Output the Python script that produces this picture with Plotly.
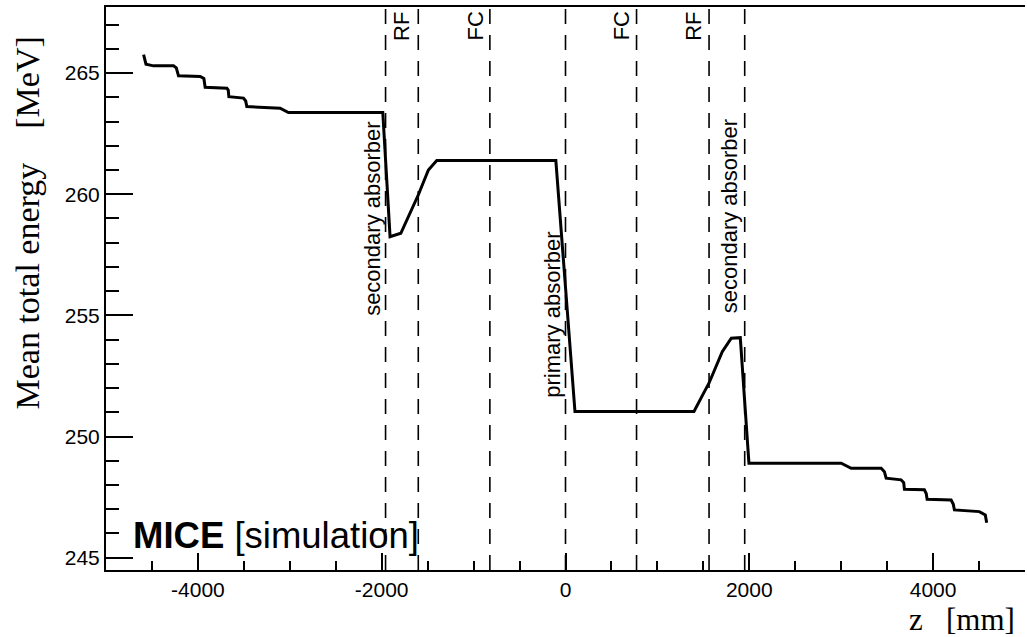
import plotly.graph_objects as go

# Mean total energy along the MICE cooling channel (simulation)
z_mm = [
    -4591, -4565, -4483, -4265, -4235, -4211, -3975, -3935, -3921, -3685, -3670,
    -3663, -3504, -3480, -3468, -3105, -3015, -1988, -1909, -1792, -1601, -1492,
    -1401, -105, 103, 1398, 1503, 1561, 1706, 1804, 1902, 1996, 3000, 3109,
    3435, 3470, 3489, 3652, 3680, 3688, 3905, 3925, 3935, 4196, 4220, 4232,
    4503, 4568, 4583,
]
mean_energy_mev = [
    265.76, 265.37, 265.30, 265.30, 265.22, 264.89, 264.86, 264.78, 264.42, 264.38, 264.30,
    264.03, 263.97, 263.85, 263.62, 263.55, 263.37, 263.37, 258.25, 258.39, 259.98, 261.00,
    261.39, 261.39, 251.03, 251.03, 251.79, 252.20, 253.50, 254.06, 254.08, 248.90, 248.90, 248.69,
    248.69, 248.55, 248.28, 248.21, 248.10, 247.82, 247.80, 247.65, 247.41, 247.38, 247.20, 246.97,
    246.90, 246.76, 246.44,
]

# Channel elements marked by dashed lines
element_z = [-1958, -1602, -823, 0, 773, 1562, 1950]
element_names = ["secondary absorber", "RF", "FC", "primary absorber", "FC", "RF", "secondary absorber"]

x_tick_vals = [-4000, -2000, 0, 2000, 4000]
x_tick_text = ["-4000", "-2000", "0", "2000", "4000"]
y_tick_vals = [245, 250, 255, 260, 265]
y_tick_text = ["245", "250", "255", "260", "265"]

SANS = "Liberation Sans, Arial, Helvetica, sans-serif"
SERIF = "Liberation Serif, Times New Roman, serif"
NB = "\u00a0"

# plot-area geometry in pixels
L, R, T, B = 106, 2, 7, 67
W, H = 1027, 637
PW, PH = W - L - R, H - T - B


def px_to_paper(px, py):
    return (px - L) / PW, (H - B - py) / PH


fig = go.Figure()
fig.add_trace(go.Scatter(
    x=z_mm, y=mean_energy_mev, mode="lines",
    line=dict(color="black", width=3), hoverinfo="skip", showlegend=False,
))

for zpos in element_z:
    fig.add_shape(type="line", xref="x", yref="paper", x0=zpos, x1=zpos, y0=0, y1=1,
                  line=dict(color="black", width=1.6, dash="15px,11px"), layer="below")

# label placement: (x in mm, bottom of rotated text in MeV)
label_pos = [(-2094, 254.9), (-1784, 266.25), (-984, 266.25), (-141, 251.5),
             (604, 266.25), (1392, 266.25), (1778, 255.0)]
for name, (lx, ly) in zip(element_names, label_pos):
    fig.add_annotation(x=lx, y=ly, xref="x", yref="y", text=name, textangle=-90,
                       showarrow=False, xanchor="center", yanchor="bottom",
                       font=dict(family=SANS, size=22, color="black"))

mx, my = px_to_paper(131, 535)
fig.add_annotation(xref="paper", yref="paper", x=mx, y=my,
                   xanchor="left", yanchor="middle", showarrow=False,
                   text="<b>MICE</b>" + NB + "[simulation]",
                   font=dict(family=SANS, size=36.5, color="black"))

zx, zy = px_to_paper(1017, 619)
fig.add_annotation(xref="paper", yref="paper", x=zx, y=zy,
                   xanchor="right", yanchor="middle", showarrow=False,
                   text="z" + NB * 3 + "[mm]",
                   font=dict(family=SERIF, size=31, color="black"))

yx, yy = px_to_paper(27, 35)
fig.add_annotation(xref="paper", yref="paper", x=yx, y=yy,
                   xanchor="center", yanchor="top", showarrow=False, textangle=-90,
                   text="Mean total energy" + NB * 4 + "[MeV]",
                   font=dict(family=SERIF, size=34, color="black"))

fig.update_layout(
    width=W, height=H,
    margin=dict(l=L, r=R, t=T, b=B, pad=0),
    paper_bgcolor="white", plot_bgcolor="white",
    font=dict(family=SANS, size=21, color="black"),
)

fig.update_xaxes(
    range=[-5000, 5000], showgrid=False, zeroline=False,
    showline=True, linecolor="black", linewidth=2, mirror=True,
    ticks="inside", ticklen=17, tickwidth=2, tickcolor="black",
    tickmode="array", tickvals=x_tick_vals, ticktext=x_tick_text,
    minor=dict(ticks="inside", ticklen=9, tickwidth=2, tickcolor="black",
               tickmode="linear", tick0=0, dtick=500, showgrid=False),
    tickfont=dict(family=SANS, size=21, color="black"),
)
fig.update_yaxes(
    range=[244.49, 267.73], showgrid=False, zeroline=False,
    showline=True, linecolor="black", linewidth=2, mirror=False,
    ticks="inside", ticklen=27, tickwidth=2, tickcolor="black",
    tickmode="array", tickvals=y_tick_vals, ticktext=y_tick_text,
    minor=dict(ticks="inside", ticklen=13, tickwidth=2, tickcolor="black",
               tickmode="linear", tick0=245, dtick=1, showgrid=False),
    tickfont=dict(family=SANS, size=21, color="black"),
)

fig.write_html("out.html")
